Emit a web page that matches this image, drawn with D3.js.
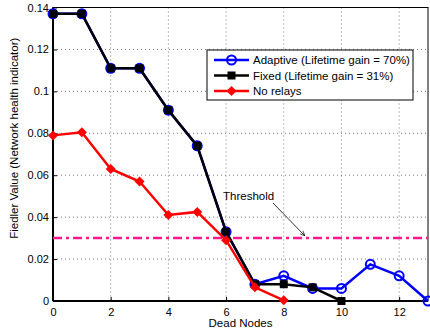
<!DOCTYPE html>
<html>
<head>
<meta charset="utf-8">
<script src="https://cdn.jsdelivr.net/npm/d3@7"></script>
<style>
  body { margin: 0; background: #fff; }
  text { font-family: "Liberation Sans", Arial, sans-serif; }
</style>
</head>
<body>
<div id="chart"></div>
<script>
// values
var adaptiveX = [0, 1, 2, 3, 4, 5, 6, 7, 8, 9, 10, 11, 12, 13];
var adaptiveY = [0.137, 0.137, 0.111, 0.111, 0.091, 0.074, 0.033, 0.008, 0.012, 0.006, 0.006, 0.0175, 0.012, 0];
var fixedX = [0, 1, 2, 3, 4, 5, 6, 7, 8, 9, 10];
var fixedY = [0.137, 0.137, 0.111, 0.111, 0.091, 0.074, 0.033, 0.008, 0.008, 0.0065, 0];
var noRelayX = [0, 1, 2, 3, 4, 5, 6, 7, 8];
var noRelayY = [0.079, 0.0805, 0.063, 0.057, 0.041, 0.0425, 0.029, 0.0065, 0.0003];
var threshold = 0.03;
var xTicks = [0, 2, 4, 6, 8, 10, 12];
var yTicks = [0, 0.02, 0.04, 0.06, 0.08, 0.1, 0.12, 0.14];
var legendLabels = ["Adaptive (Lifetime gain = 70%)", "Fixed (Lifetime gain = 31%)", "No relays"];

var width = 430;
var height = 331;
var plotLeft = 53, plotRight = 428, plotTop = 7.5, plotBottom = 301;
var tickFont = 11, labelFont = 11.5;

var svg = d3
  .select("#chart")
  .append("svg")
  .attr("width", width)
  .attr("height", height);

var xScale = d3.scaleLinear().domain([0, 13]).range([plotLeft, plotRight]);
var yScale = d3.scaleLinear().domain([0, 0.14]).range([plotBottom, plotTop]);

// dotted grid
svg.append("g")
  .selectAll("line")
  .data(xTicks.slice(1))
  .enter()
  .append("line")
  .attr("x1", function(d) { return xScale(d); })
  .attr("x2", function(d) { return xScale(d); })
  .attr("y1", plotTop)
  .attr("y2", plotBottom)
  .attr("stroke", "#555")
  .attr("stroke-width", 0.8)
  .attr("stroke-dasharray", "1,3");

svg.append("g")
  .selectAll("line")
  .data(yTicks.slice(1, -1))
  .enter()
  .append("line")
  .attr("x1", plotLeft)
  .attr("x2", plotRight)
  .attr("y1", function(d) { return yScale(d); })
  .attr("y2", function(d) { return yScale(d); })
  .attr("stroke", "#555")
  .attr("stroke-width", 0.8)
  .attr("stroke-dasharray", "1,3");

// axes, ticks pointing inward like matlab
var xAxis = d3.axisBottom(xScale).tickValues(xTicks).tickSize(-4).tickPadding(7)
  .tickFormat(d3.format("d"));
var yAxis = d3.axisLeft(yScale).tickValues(yTicks).tickSize(-4).tickPadding(4)
  .tickFormat(function(d) { return d === 0 ? "0" : String(+d.toFixed(2)); });

var gx = svg.append("g")
  .attr("transform", "translate(0," + plotBottom + ")")
  .call(xAxis);
var gy = svg.append("g")
  .attr("transform", "translate(" + plotLeft + ",0)")
  .call(yAxis);

[gx, gy].forEach(function(g) {
  g.select(".domain").remove();
  g.selectAll("text").attr("font-size", tickFont).attr("fill", "#000")
    .style("font-family", "'Liberation Sans', Arial, sans-serif");
  g.selectAll("line").attr("stroke", "#000");
});

// frame
svg.append("rect")
  .attr("x", plotLeft)
  .attr("y", plotTop)
  .attr("width", plotRight - plotLeft)
  .attr("height", plotBottom - plotTop)
  .attr("fill", "none")
  .attr("stroke", "#000")
  .attr("stroke-width", 1);
svg.append("line")
  .attr("x1", plotLeft).attr("x2", plotLeft)
  .attr("y1", plotTop).attr("y2", plotBottom)
  .attr("stroke", "#000").attr("stroke-width", 2);
svg.append("line")
  .attr("x1", plotLeft).attr("x2", plotRight)
  .attr("y1", plotBottom).attr("y2", plotBottom)
  .attr("stroke", "#000").attr("stroke-width", 2);

// threshold
svg.append("line")
  .attr("x1", plotLeft)
  .attr("x2", plotRight)
  .attr("y1", yScale(threshold))
  .attr("y2", yScale(threshold))
  .attr("stroke", "#ff1a8c")
  .attr("stroke-width", 2.5)
  .attr("stroke-dasharray", "9,4,3,4");

var line = d3.line()
  .x(function(d) { return xScale(d[0]); })
  .y(function(d) { return yScale(d[1]); });

function zipped(xs, ys) {
  return xs.map(function(x, i) { return [x, ys[i]]; });
}

var adaptive = zipped(adaptiveX, adaptiveY);
var fixed = zipped(fixedX, fixedY);
var noRelay = zipped(noRelayX, noRelayY);

// adaptive (blue circles)
svg.append("path")
  .attr("d", line(adaptive))
  .attr("fill", "none")
  .attr("stroke", "#0000ff")
  .attr("stroke-width", 2.5);
svg.append("g")
  .selectAll("circle")
  .data(adaptive)
  .enter()
  .append("circle")
  .attr("cx", function(d) { return xScale(d[0]); })
  .attr("cy", function(d) { return yScale(d[1]); })
  .attr("r", 4.5)
  .attr("fill", "none")
  .attr("stroke", "#0000ff")
  .attr("stroke-width", 2);

// fixed (black squares)
svg.append("path")
  .attr("d", line(fixed))
  .attr("fill", "none")
  .attr("stroke", "#000")
  .attr("stroke-width", 2.5);
svg.append("g")
  .selectAll("rect")
  .data(fixed)
  .enter()
  .append("rect")
  .attr("x", function(d) { return xScale(d[0]) - 4; })
  .attr("y", function(d) { return yScale(d[1]) - 4; })
  .attr("width", 8)
  .attr("height", 8)
  .attr("fill", "#000");

// no relays (red diamonds)
var diamond = d3.symbol().type(d3.symbolSquare).size(50);
svg.append("path")
  .attr("d", line(noRelay))
  .attr("fill", "none")
  .attr("stroke", "#ff0000")
  .attr("stroke-width", 2.5);
svg.append("g")
  .selectAll("path")
  .data(noRelay)
  .enter()
  .append("path")
  .attr("d", diamond)
  .attr("transform", function(d) {
    return "translate(" + xScale(d[0]) + "," + yScale(d[1]) + ") rotate(45)";
  })
  .attr("fill", "#ff0000");

// threshold annotation
svg.append("text")
  .attr("x", 223)
  .attr("y", 200)
  .attr("font-size", labelFont)
  .text("Threshold");
svg.append("defs").append("marker")
  .attr("id", "arrow")
  .attr("viewBox", "0 0 10 10")
  .attr("refX", 10)
  .attr("refY", 5)
  .attr("markerWidth", 7)
  .attr("markerHeight", 7)
  .attr("orient", "auto")
  .append("path")
  .attr("d", "M0,1L10,5L0,9")
  .attr("fill", "none")
  .attr("stroke", "#000")
  .attr("stroke-width", 1.2);
svg.append("line")
  .attr("x1", 273)
  .attr("y1", 203)
  .attr("x2", 305)
  .attr("y2", 236)
  .attr("stroke", "#000")
  .attr("stroke-width", 0.8)
  .attr("marker-end", "url(#arrow)");

// legend
var legend = svg.append("g").attr("transform", "translate(207,50)");
legend.append("rect")
  .attr("width", 206)
  .attr("height", 50)
  .attr("fill", "#fff")
  .attr("stroke", "#000")
  .attr("stroke-width", 1);
var legendColors = ["#0000ff", "#000", "#ff0000"];
legendLabels.forEach(function(label, i) {
  var y = 10 + i * 15.5;
  legend.append("line")
    .attr("x1", 7).attr("x2", 42)
    .attr("y1", y).attr("y2", y)
    .attr("stroke", legendColors[i])
    .attr("stroke-width", 2.5);
  if (i === 0) {
    legend.append("circle").attr("cx", 24.5).attr("cy", y).attr("r", 4.5)
      .attr("fill", "none").attr("stroke", legendColors[i]).attr("stroke-width", 2);
  }
  else if (i === 1) {
    legend.append("rect").attr("x", 20.5).attr("y", y - 4).attr("width", 8).attr("height", 8)
      .attr("fill", "#000");
  }
  else {
    legend.append("path").attr("d", diamond)
      .attr("transform", "translate(24.5," + y + ") rotate(45)")
      .attr("fill", "#ff0000");
  }
  legend.append("text")
    .attr("x", 46)
    .attr("y", y + 4)
    .attr("font-size", labelFont)
    .text(label);
});

// axis labels
svg.append("text")
  .attr("x", (plotLeft + plotRight) / 2)
  .attr("y", 327)
  .attr("text-anchor", "middle")
  .attr("font-size", labelFont)
  .text("Dead Nodes");
svg.append("text")
  .attr("transform", "translate(18," + ((plotTop + plotBottom) / 2 - 16) + ") rotate(-90)")
  .attr("text-anchor", "middle")
  .attr("font-size", labelFont)
  .text("Fiedler Value (Network health indicator)");
</script>
</body>
</html>
